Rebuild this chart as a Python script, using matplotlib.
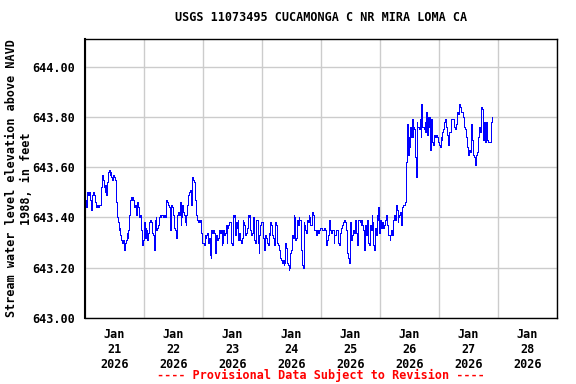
import numpy as np
import pandas as pd
import matplotlib
matplotlib.use("Agg")
import matplotlib.pyplot as plt
import matplotlib.dates as mdates

title = "USGS 11073495 CUCAMONGA C NR MIRA LOMA CA"
ylabel = "Stream water level elevation above NAVD\n1988, in feet"
footer = "---- Provisional Data Subject to Revision ----"

day_starts = ["2026-01-21", "2026-01-22", "2026-01-23", "2026-01-24",
              "2026-01-25", "2026-01-26", "2026-01-27"]
day_spans = [1.0, 1.0, 1.0, 1.0, 1.0, 1.0, 0.91]

jan21 = [643.47, 643.44, 643.49, 643.50, 643.49, 643.50, 643.47, 643.43, 643.45, 643.49,
         643.50, 643.49, 643.46, 643.45, 643.44, 643.45, 643.44, 643.45, 643.45, 643.46,
         643.52, 643.57, 643.55, 643.52, 643.50, 643.53, 643.49, 643.54, 643.58, 643.59,
         643.57, 643.58, 643.56, 643.55, 643.57, 643.56, 643.56, 643.55, 643.46, 643.40,
         643.38, 643.35, 643.36, 643.33, 643.31, 643.30, 643.31, 643.28, 643.27, 643.30,
         643.31, 643.34, 643.32, 643.35, 643.41, 643.47, 643.48, 643.47, 643.48, 643.47,
         643.44, 643.45, 643.41, 643.42, 643.46, 643.44, 643.40, 643.41, 643.35, 643.31,
         643.29, 643.31]
jan22 = [643.38, 643.32, 643.36, 643.35, 643.31, 643.34, 643.38, 643.39, 643.39, 643.38,
         643.34, 643.33, 643.27, 643.39, 643.40, 643.35, 643.36, 643.37, 643.40, 643.41,
         643.40, 643.41, 643.41, 643.40, 643.41, 643.40, 643.42, 643.47, 643.46, 643.45,
         643.44, 643.35, 643.37, 643.45, 643.44, 643.41, 643.36, 643.35, 643.33, 643.32,
         643.41, 643.42, 643.41, 643.46, 643.37, 643.40, 643.45, 643.42, 643.41, 643.38,
         643.37, 643.41, 643.45, 643.49, 643.50, 643.51, 643.46, 643.45, 643.56, 643.55,
         643.54, 643.47, 643.43, 643.41, 643.39, 643.38, 643.39, 643.38, 643.39, 643.34,
         643.30]
jan23 = [643.30, 643.29, 643.33, 643.32, 643.33, 643.34, 643.30, 643.32, 643.25, 643.24,
         643.35, 643.34, 643.35, 643.34, 643.26, 643.27, 643.33, 643.31, 643.32, 643.35,
         643.34, 643.35, 643.29, 643.30, 643.35, 643.33, 643.34, 643.37, 643.30, 643.36,
         643.37, 643.38, 643.38, 643.30, 643.29, 643.41, 643.40, 643.41, 643.33, 643.38,
         643.36, 643.39, 643.31, 643.34, 643.31, 643.30, 643.32, 643.39, 643.38, 643.37,
         643.33, 643.34, 643.36, 643.41, 643.40, 643.41, 643.35, 643.33, 643.34, 643.40,
         643.39, 643.31, 643.30, 643.39, 643.39, 643.30, 643.26, 643.33, 643.37, 643.38]
jan24 = [643.38, 643.32, 643.28, 643.27, 643.33, 643.32, 643.30, 643.29, 643.34, 643.33,
         643.38, 643.37, 643.33, 643.32, 643.30, 643.29, 643.38, 643.37, 643.30, 643.29,
         643.28, 643.27, 643.24, 643.23, 643.22, 643.23, 643.21, 643.22, 643.30, 643.28,
         643.22, 643.21, 643.19, 643.20, 643.26, 643.27, 643.33, 643.32, 643.41, 643.40,
         643.31, 643.32, 643.39, 643.37, 643.40, 643.39, 643.39, 643.27, 643.21, 643.20,
         643.38, 643.37, 643.35, 643.34, 643.39, 643.38, 643.41, 643.40, 643.37, 643.37,
         643.42, 643.41, 643.39, 643.35, 643.35, 643.33, 643.35, 643.34, 643.35, 643.35,
         643.36]
jan25 = [643.36, 643.35, 643.35, 643.35, 643.36, 643.35, 643.29, 643.31, 643.33, 643.39,
         643.39, 643.35, 643.34, 643.35, 643.35, 643.30, 643.33, 643.33, 643.35, 643.35,
         643.30, 643.29, 643.33, 643.34, 643.36, 643.37, 643.38, 643.39, 643.39, 643.38,
         643.35, 643.26, 643.24, 643.22, 643.38, 643.37, 643.31, 643.33, 643.35, 643.34,
         643.39, 643.39, 643.34, 643.29, 643.39, 643.39, 643.38, 643.37, 643.39, 643.37,
         643.35, 643.27, 643.37, 643.33, 643.39, 643.39, 643.30, 643.29, 643.37, 643.35,
         643.41, 643.38, 643.29, 643.27, 643.36, 643.33, 643.41, 643.39, 643.44, 643.34]
jan26 = [643.39, 643.36, 643.37, 643.38, 643.36, 643.37, 643.39, 643.39, 643.41, 643.37,
         643.33, 643.33, 643.31, 643.33, 643.35, 643.33, 643.39, 643.39, 643.41, 643.39,
         643.45, 643.43, 643.38, 643.40, 643.41, 643.42, 643.37, 643.42, 643.44, 643.45,
         643.45, 643.46, 643.46, 643.62, 643.77, 643.65, 643.72, 643.68, 643.76, 643.72,
         643.79, 643.72, 643.76, 643.75, 643.64, 643.56, 643.78, 643.76, 643.76, 643.75,
         643.79, 643.72, 643.85, 643.76, 643.76, 643.75, 643.78, 643.74, 643.82, 643.73,
         643.80, 643.76, 643.80, 643.67, 643.79, 643.70, 643.70, 643.69, 643.73, 643.72,
         643.73, 643.73, 643.72, 643.70]
jan27 = [643.69, 643.68, 643.72, 643.71, 643.74, 643.75, 643.78, 643.79, 643.76, 643.75,
         643.73, 643.69, 643.74, 643.74, 643.79, 643.79, 643.79, 643.79, 643.76, 643.75,
         643.77, 643.77, 643.82, 643.81, 643.85, 643.84, 643.82, 643.82, 643.82, 643.80,
         643.76, 643.75, 643.72, 643.68, 643.66, 643.65, 643.67, 643.66, 643.77, 643.71,
         643.68, 643.65, 643.64, 643.61, 643.65, 643.66, 643.69, 643.72, 643.76, 643.74,
         643.84, 643.83, 643.80, 643.71, 643.78, 643.70, 643.78, 643.71, 643.71, 643.70,
         643.70, 643.70, 643.78, 643.80]

daily_values = [jan21, jan22, jan23, jan24, jan25, jan26, jan27]

y_ticks = [643.0, 643.2, 643.4, 643.6, 643.8, 644.0]
x_labels = ["Jan\n21\n2026", "Jan\n22\n2026", "Jan\n23\n2026", "Jan\n24\n2026",
            "Jan\n25\n2026", "Jan\n26\n2026", "Jan\n27\n2026", "Jan\n28\n2026"]

# build time series
times = []
vals = []
for start, span, v in zip(day_starts, day_spans, daily_values):
    t0 = pd.Timestamp(start)
    n = len(v)
    offs = np.arange(n) / n * span
    times.extend([t0 + pd.Timedelta(days=float(o)) for o in offs])
    vals.extend(v)

font = ["DejaVu Sans Mono"]
plt.rcParams["font.family"] = font
plt.rcParams["font.weight"] = "bold"

fig = plt.figure(figsize=(5.76, 3.84), dpi=100)
ax = fig.add_axes([85 / 576, 1 - 318 / 384, (557 - 85) / 576, (318 - 39) / 384])

ax.plot(times, vals, color="#0000FF", linewidth=0.72, drawstyle="steps-post",
        antialiased=False)

x0 = pd.Timestamp("2026-01-21")
x1 = pd.Timestamp("2026-01-29")
ax.set_xlim(x0, x1)
ax.set_ylim(643.0, 644.11)

major = pd.date_range("2026-01-21", "2026-01-29", freq="D")
minor = major[:-1] + pd.Timedelta(hours=12)
ax.set_xticks(major)
ax.set_xticklabels([""] * len(major))
ax.set_xticks(minor, minor=True)
ax.set_xticklabels(x_labels, minor=True, fontsize=8.5, fontweight="bold")
ax.tick_params(axis="x", which="both", length=0, pad=7)

ax.set_yticks(y_ticks)
ax.set_yticklabels(["%.2f" % t for t in y_ticks], fontsize=8.5, fontweight="bold")
ax.tick_params(axis="y", length=0, pad=7)

ax.grid(True, which="major", color="#cccccc", linewidth=1.0)
ax.set_axisbelow(True)
for s in ax.spines.values():
    s.set_color("black")
    s.set_linewidth(1.0)
ax.spines["left"].set_linewidth(1.5)

ax.set_title(title, fontsize=8.5, fontweight="bold", pad=13)
fig.text(19 / 576, (1 - 318 / 384 + 1 - 39 / 384) / 2, ylabel, rotation=90,
         ha="center", va="center", fontsize=8.5, fontweight="bold", linespacing=1.15)
fig.text(321 / 576, 1 - 375 / 384, footer, color="red", ha="center", va="center",
         fontsize=8.5, fontweight="bold")

fig.savefig("out.png", dpi=100)
